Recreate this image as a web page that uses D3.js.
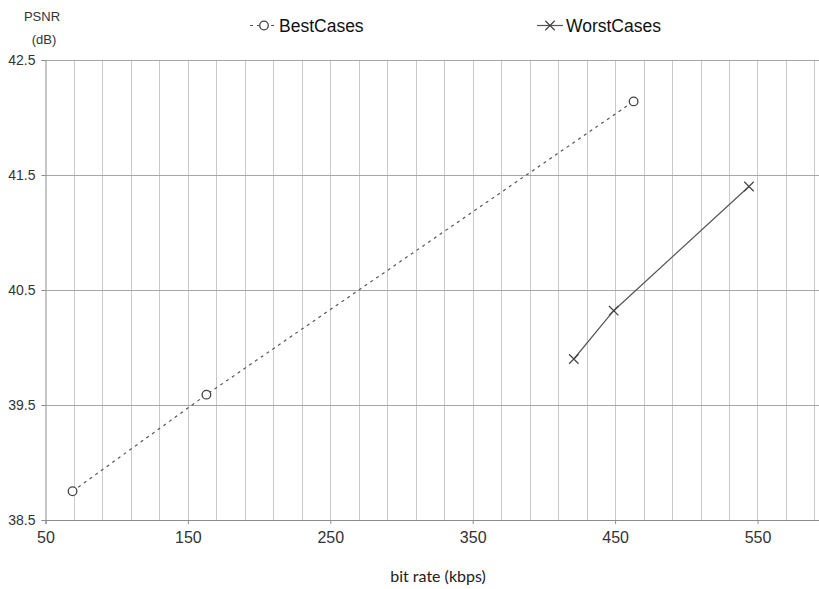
<!DOCTYPE html>
<html>
<head>
<meta charset="utf-8">
<script src="https://cdn.jsdelivr.net/npm/d3@7"></script>
<style>
  body { margin: 0; background: #fff; }
  svg { display: block; font-family: "Liberation Sans", Arial, sans-serif; }
</style>
</head>
<body>
<svg id="chart" width="819" height="589"></svg>
<script>
// Rate–distortion points (bit rate in kbps, PSNR in dB)
const bestRate = [69, 163, 463];
const bestPsnr = [38.75, 39.59, 42.14];
const worstRate = [421, 449, 544];
const worstPsnr = [39.9, 40.32, 41.4];

const xTicks = [50, 150, 250, 350, 450, 550];
const yTicks = [38.5, 39.5, 40.5, 41.5, 42.5];
const xMinorTicks = d3.range(50, 600, 20);

const seriesNames = ["BestCases", "WorstCases"];

const svg = d3.select("#chart");
const plotLeft = 45.5, plotTop = 60, plotBottom = 520;
const x = d3.scaleLinear().domain([50, 600]).range([plotLeft, plotLeft + 550 * 1.424]);
const y = d3.scaleLinear().domain([38.5, 42.5]).range([plotBottom, plotTop]);

// vertical minor gridlines
svg.append("g").selectAll("line").data(xMinorTicks.slice(1)).join("line")
  .attr("x1", d => Math.round(x(d)) + 0.5).attr("x2", d => Math.round(x(d)) + 0.5)
  .attr("y1", plotTop).attr("y2", plotBottom)
  .attr("stroke", "#c9c9c9").attr("stroke-width", 1);

// horizontal major gridlines
svg.append("g").selectAll("line").data(yTicks.slice(1)).join("line")
  .attr("x1", plotLeft).attr("x2", 819)
  .attr("y1", d => Math.round(y(d)) + 0.5).attr("y2", d => Math.round(y(d)) + 0.5)
  .attr("stroke", "#a6a6a6").attr("stroke-width", 1);

// y axis
const yAxis = svg.append("g").attr("transform", `translate(${plotLeft},0)`)
  .call(d3.axisLeft(y).tickValues(yTicks).tickFormat(d3.format(".1f")).tickSize(4).tickPadding(6));
yAxis.select(".domain").attr("stroke", "#8c8c8c");
yAxis.selectAll(".tick line").attr("stroke", "#8c8c8c");
yAxis.selectAll("text").attr("font-size", 14).attr("fill", "#333")
  .attr("font-family", "'Liberation Sans', Arial, sans-serif");

// x axis
const xAxis = svg.append("g").attr("transform", `translate(0,${plotBottom})`)
  .call(d3.axisBottom(x).tickValues(xTicks).tickFormat(d3.format("d")).tickSize(4).tickPadding(8));
xAxis.select(".domain").attr("stroke", "#8c8c8c");
xAxis.selectAll(".tick line").attr("stroke", "#8c8c8c");
xAxis.selectAll("text").attr("font-size", 16).attr("fill", "#333")
  .attr("font-family", "'Liberation Sans', Arial, sans-serif");

// axis titles
svg.append("text").attr("x", 42).attr("y", 21).attr("text-anchor", "middle")
  .attr("font-size", 13).attr("fill", "#333").text("PSNR");
svg.append("text").attr("x", 44).attr("y", 44).attr("text-anchor", "middle")
  .attr("font-size", 13).attr("fill", "#333").text("(dB)");
svg.append("text").attr("x", 438).attr("y", 582).attr("text-anchor", "middle")
  .attr("font-size", 16).attr("fill", "#222").attr("font-family", "Lato, sans-serif")
  .text("bit rate (kbps)");

const bestData = bestRate.map((r, i) => [r, bestPsnr[i]]);
const worstData = worstRate.map((r, i) => [r, worstPsnr[i]]);
const line = d3.line().x(d => x(d[0])).y(d => y(d[1]));

// BestCases series: dashed line with open circles
svg.append("path").datum(bestData).attr("d", line)
  .attr("fill", "none").attr("stroke", "#555").attr("stroke-width", 1.2)
  .attr("stroke-dasharray", "3,4");
svg.append("g").selectAll("circle").data(bestData).join("circle")
  .attr("cx", d => x(d[0])).attr("cy", d => y(d[1])).attr("r", 4.3)
  .attr("fill", "#fff").attr("stroke", "#444").attr("stroke-width", 1.3);

// WorstCases series: solid line with crosses
svg.append("path").datum(worstData).attr("d", line)
  .attr("fill", "none").attr("stroke", "#555").attr("stroke-width", 1.2);
const cross = d3.symbol().type(d3.symbolTimes).size(60);
svg.append("g").selectAll("path").data(worstData).join("path")
  .attr("transform", d => `translate(${x(d[0])},${y(d[1])})`)
  .attr("d", cross).attr("fill", "none").attr("stroke", "#444").attr("stroke-width", 1.2);

// legend
const lg = svg.append("g").attr("font-size", 17.5).attr("fill", "#111");
lg.append("line").attr("x1", 250).attr("x2", 275).attr("y1", 25.5).attr("y2", 25.5)
  .attr("stroke", "#555").attr("stroke-width", 1.2).attr("stroke-dasharray", "3,4");
lg.append("circle").attr("cx", 264).attr("cy", 25.5).attr("r", 4.3)
  .attr("fill", "#fff").attr("stroke", "#444").attr("stroke-width", 1.3);
lg.append("text").attr("x", 279).attr("y", 31.5).text(seriesNames[0]);
lg.append("line").attr("x1", 537).attr("x2", 563).attr("y1", 25.5).attr("y2", 25.5)
  .attr("stroke", "#555").attr("stroke-width", 1.2);
lg.append("path").attr("transform", "translate(550,25.5)").attr("d", cross)
  .attr("fill", "none").attr("stroke", "#444").attr("stroke-width", 1.2);
lg.append("text").attr("x", 566).attr("y", 31.5).text(seriesNames[1]);
</script>
</body>
</html>
